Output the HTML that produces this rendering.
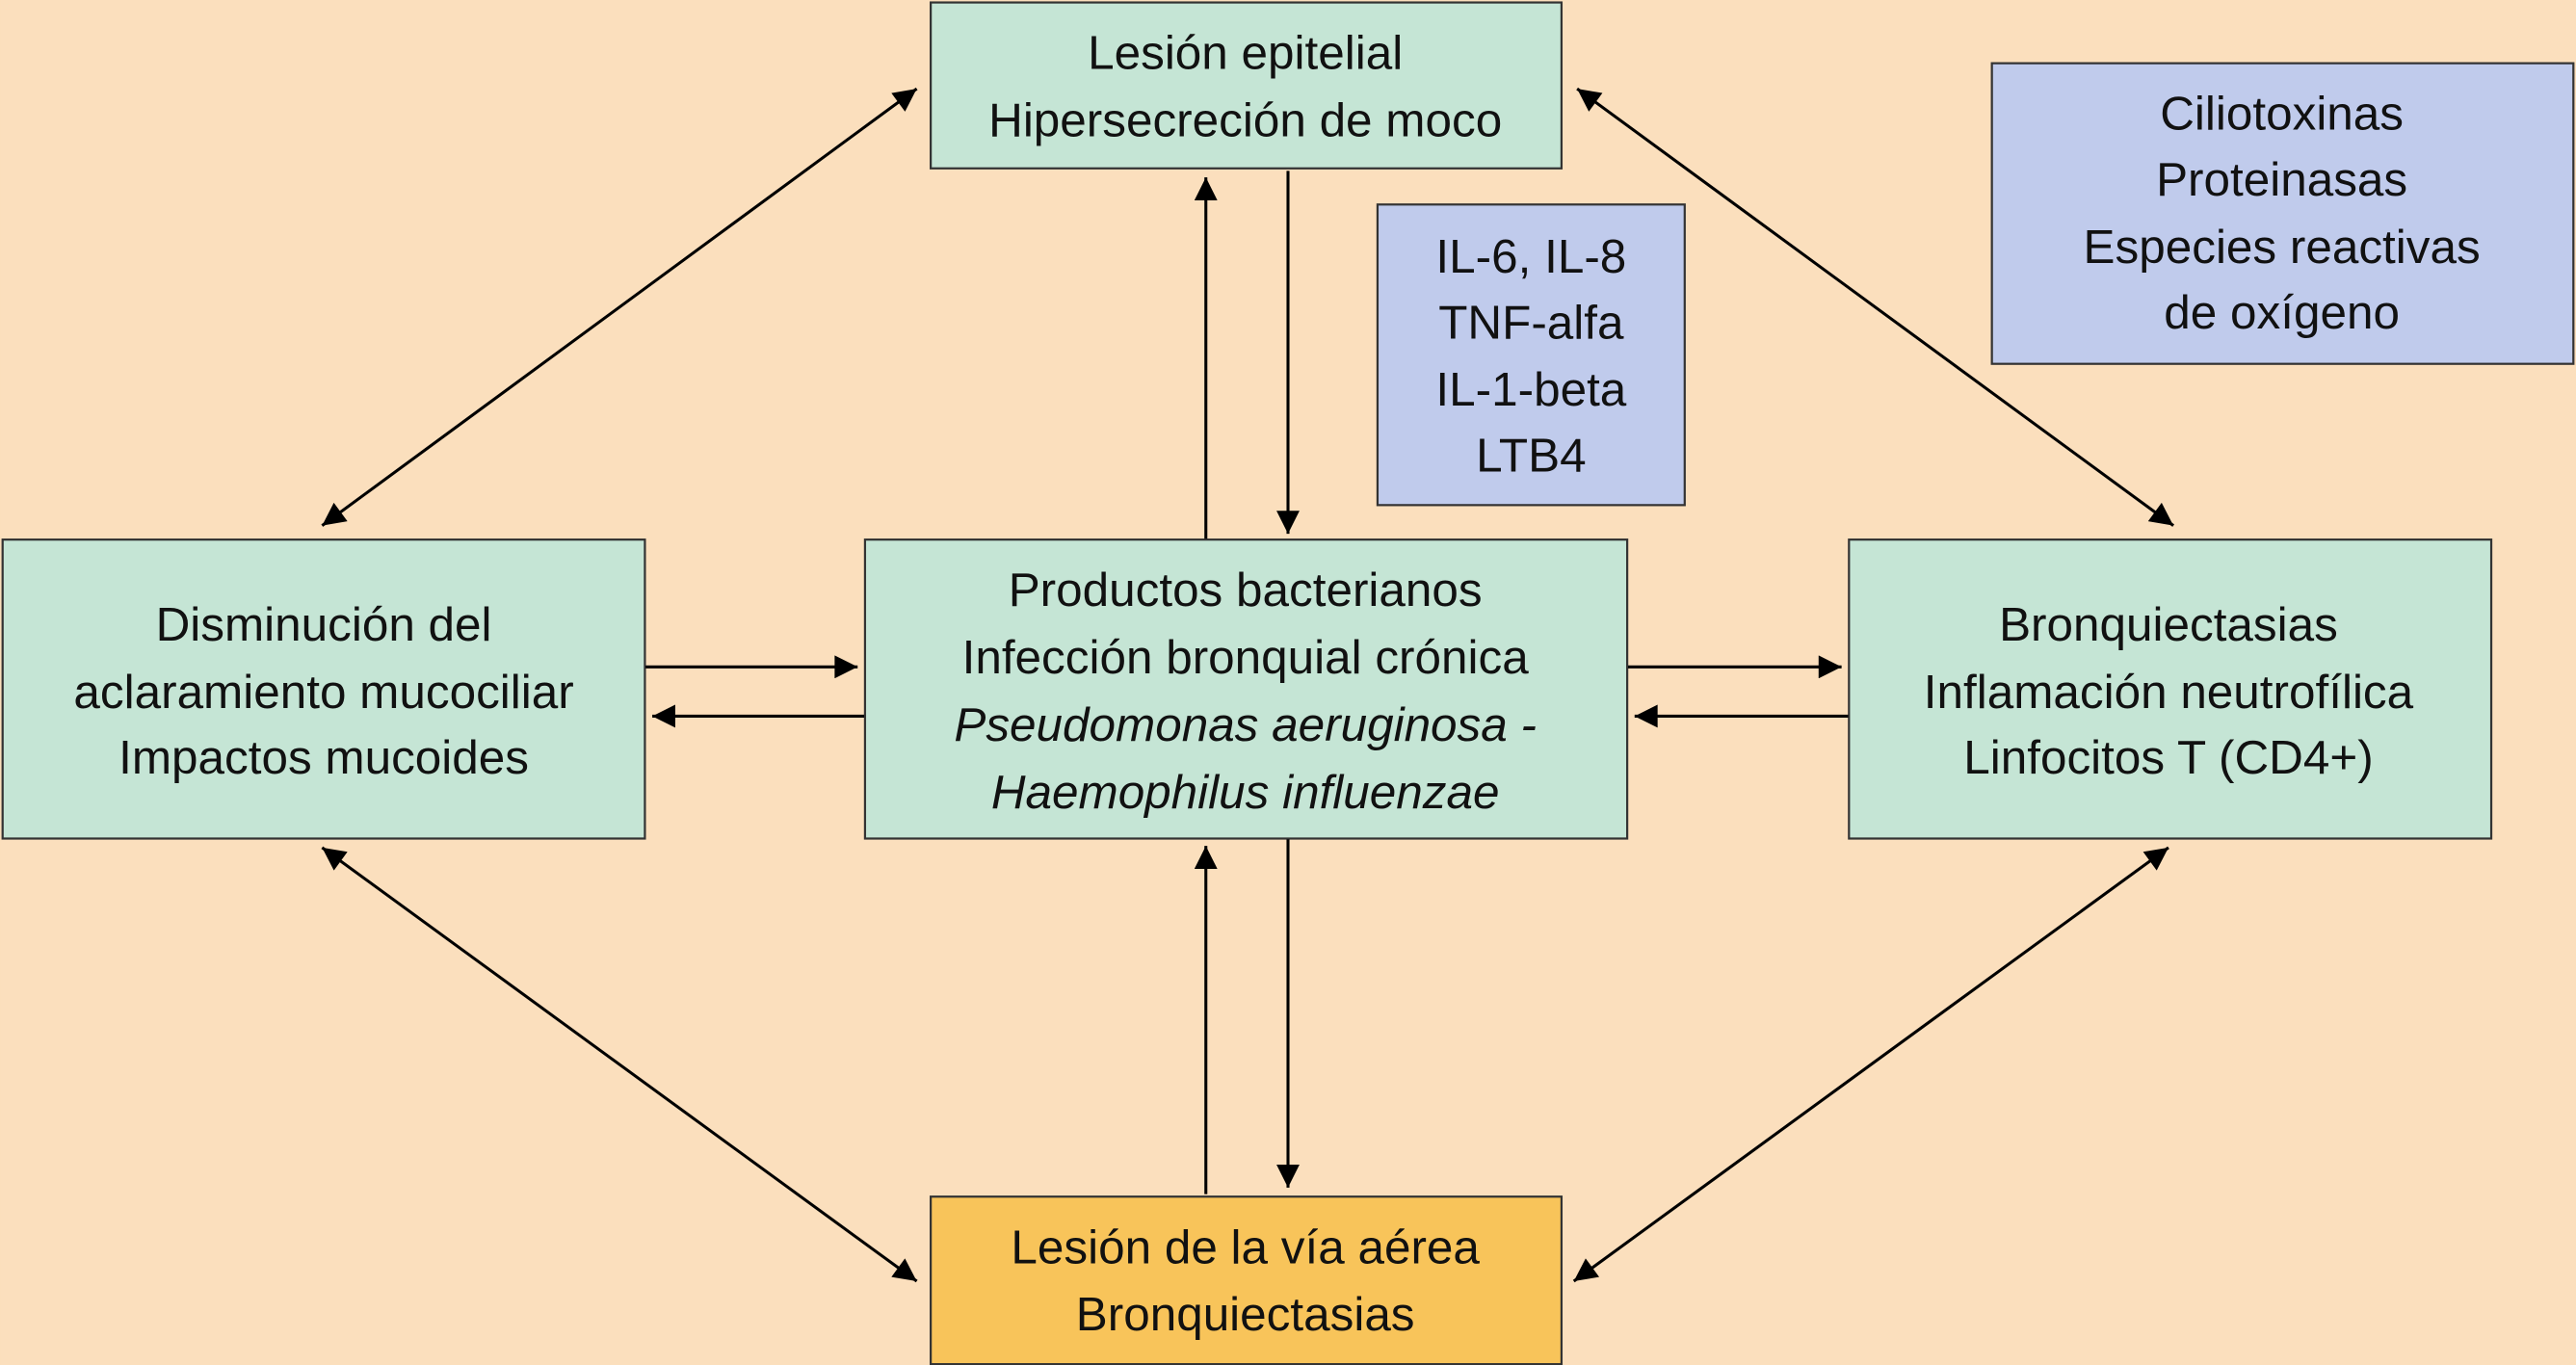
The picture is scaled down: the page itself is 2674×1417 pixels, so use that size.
<!DOCTYPE html>
<html><head><meta charset="utf-8">
<style>
html,body{margin:0;padding:0;background:#fbdfbd;}
svg{display:block;}
text{font-family:"Liberation Sans",sans-serif;font-size:29px;fill:#111;text-anchor:middle;}
</style></head>
<body>
<svg width="2674" height="1417" viewBox="0 0 1568 831" xmlns="http://www.w3.org/2000/svg">
<defs>
<marker id="a" viewBox="0 0 10 10" refX="10" refY="5" markerWidth="20" markerHeight="14" markerUnits="userSpaceOnUse" orient="auto-start-reverse">
<path d="M0,0 L10,5 L0,10 z" fill="#000"/>
</marker>
</defs>
<rect width="1568" height="831" fill="#fbdfbd"/>
<g stroke="#333" stroke-width="1.3">
<rect x="566.5" y="1.5" width="384" height="101" fill="#c5e5d5"/>
<rect x="838.5" y="124.5" width="187" height="183" fill="#c0cbec"/>
<rect x="1212.5" y="38.5" width="354" height="183" fill="#c0cbec"/>
<rect x="1.5" y="328.5" width="391" height="182" fill="#c5e5d5"/>
<rect x="526.5" y="328.5" width="464" height="182" fill="#c5e5d5"/>
<rect x="1125.5" y="328.5" width="391" height="182" fill="#c5e5d5"/>
<rect x="566.5" y="728.5" width="384" height="102" fill="#f8c45a"/>
</g>
<g stroke="#000" stroke-width="1.8" fill="none">
<line x1="558" y1="54" x2="196" y2="320" marker-start="url(#a)" marker-end="url(#a)"/>
<line x1="960" y1="54" x2="1323" y2="320" marker-start="url(#a)" marker-end="url(#a)"/>
<line x1="196" y1="516" x2="558" y2="780" marker-start="url(#a)" marker-end="url(#a)"/>
<line x1="1320" y1="516" x2="958" y2="780" marker-start="url(#a)" marker-end="url(#a)"/>
<line x1="734" y1="328" x2="734" y2="108" marker-end="url(#a)"/>
<line x1="784" y1="104" x2="784" y2="325" marker-end="url(#a)"/>
<line x1="734" y1="727" x2="734" y2="515" marker-end="url(#a)"/>
<line x1="784" y1="511" x2="784" y2="723" marker-end="url(#a)"/>
<line x1="393" y1="406" x2="522" y2="406" marker-end="url(#a)"/>
<line x1="526" y1="436" x2="397" y2="436" marker-end="url(#a)"/>
<line x1="991" y1="406" x2="1121" y2="406" marker-end="url(#a)"/>
<line x1="1125" y1="436" x2="995" y2="436" marker-end="url(#a)"/>
</g>
<text x="758" y="42">Lesión epitelial</text>
<text x="758" y="83">Hipersecreción de moco</text>
<text x="932" y="166">IL-6, IL-8</text>
<text x="932" y="206">TNF-alfa</text>
<text x="932" y="247">IL-1-beta</text>
<text x="932" y="287">LTB4</text>
<text x="1389" y="79">Ciliotoxinas</text>
<text x="1389" y="119">Proteinasas</text>
<text x="1389" y="160">Especies reactivas</text>
<text x="1389" y="200">de oxígeno</text>
<text x="197" y="390">Disminución del</text>
<text x="197" y="431">aclaramiento mucociliar</text>
<text x="197" y="471">Impactos mucoides</text>
<text x="758" y="369">Productos bacterianos</text>
<text x="758" y="410">Infección bronquial crónica</text>
<text x="758" y="451" font-style="italic">Pseudomonas aeruginosa -</text>
<text x="758" y="492" font-style="italic">Haemophilus influenzae</text>
<text x="1320" y="390">Bronquiectasias</text>
<text x="1320" y="431">Inflamación neutrofílica</text>
<text x="1320" y="471">Linfocitos T (CD4+)</text>
<text x="758" y="769">Lesión de la vía aérea</text>
<text x="758" y="810">Bronquiectasias</text>
</svg>
</body></html>
